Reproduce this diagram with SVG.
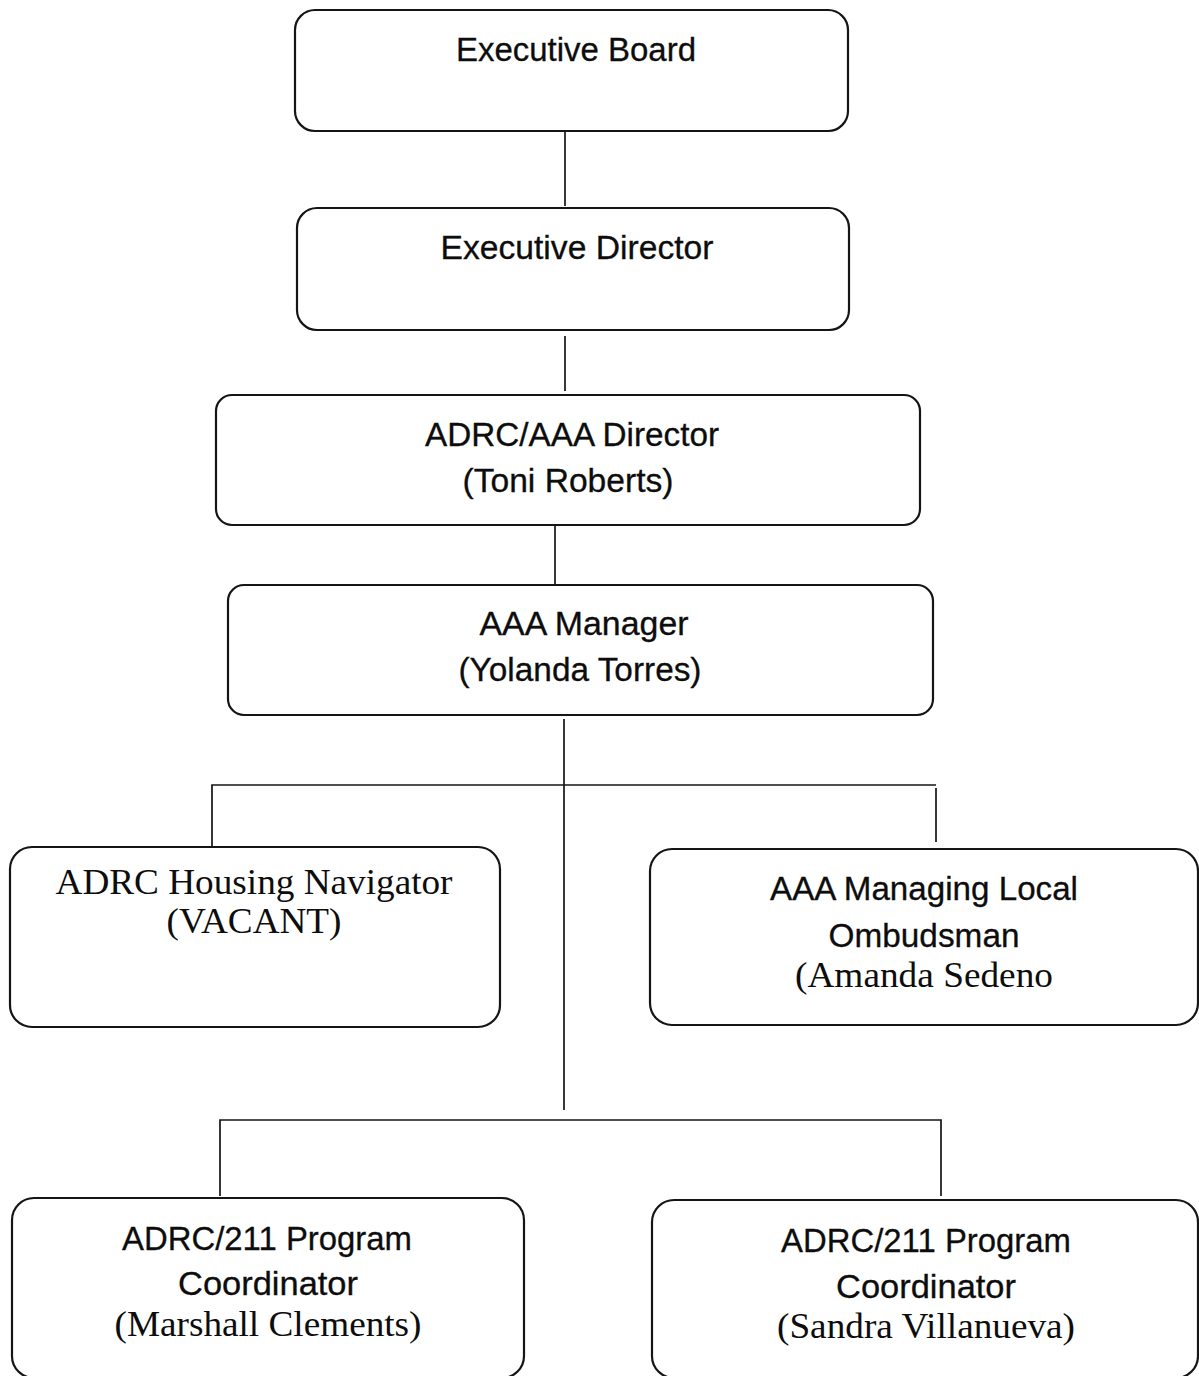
<svg xmlns="http://www.w3.org/2000/svg" width="1199" height="1376" viewBox="0 0 1199 1376">
  <style>
    .box { fill: #ffffff; stroke: #151515; stroke-width: 2.2; }
    .link { fill: none; stroke: #151515; stroke-width: 1.7; }
    .sans { font-family: "Liberation Sans", Arial, sans-serif; font-size: 33px; fill: #0d0d0d; stroke: #0d0d0d; stroke-width: 0.3; text-anchor: middle; }
    .serif { font-family: "Liberation Serif", "Times New Roman", serif; font-size: 36px; fill: #0d0d0d; text-anchor: middle; }
  </style>
  <rect width="1199" height="1376" fill="#ffffff"/>

  <!-- reporting lines -->
  <g id="connectors">
    <line class="link" x1="565" y1="131" x2="565" y2="206"/>
    <line class="link" x1="565" y1="336" x2="565" y2="391"/>
    <line class="link" x1="555" y1="526" x2="555" y2="584"/>
    <line class="link" x1="564" y1="719" x2="564" y2="1110"/>
    <polyline class="link" points="212,846 212,785 936,785"/>
    <line class="link" x1="936" y1="788" x2="936" y2="842"/>
    <polyline class="link" points="220,1196 220,1120 941,1120 941,1196"/>
  </g>

  <g id="executive-board">
    <rect class="box" x="295" y="10" width="553" height="121" rx="20"/>
    <text class="sans" x="576" y="61" textLength="240" lengthAdjust="spacingAndGlyphs">Executive Board</text>
  </g>

  <g id="executive-director">
    <rect class="box" x="297" y="208" width="552" height="122" rx="20"/>
    <text class="sans" x="577" y="259" textLength="273" lengthAdjust="spacingAndGlyphs">Executive Director</text>
  </g>

  <g id="adrc-aaa-director">
    <rect class="box" x="216" y="395" width="704" height="130" rx="16"/>
    <text class="sans" x="572" y="446" textLength="294" lengthAdjust="spacingAndGlyphs">ADRC/AAA Director</text>
    <text class="sans" x="568" y="492" textLength="211" lengthAdjust="spacingAndGlyphs">(Toni Roberts)</text>
  </g>

  <g id="aaa-manager">
    <rect class="box" x="228" y="585" width="705" height="130" rx="16"/>
    <text class="sans" x="584" y="635" textLength="209" lengthAdjust="spacingAndGlyphs">AAA Manager</text>
    <text class="sans" x="580" y="681" textLength="243" lengthAdjust="spacingAndGlyphs">(Yolanda Torres)</text>
  </g>

  <g id="housing-navigator">
    <rect class="box" x="10" y="847" width="490" height="180" rx="22"/>
    <text class="serif" x="254" y="894" textLength="397" lengthAdjust="spacingAndGlyphs">ADRC Housing Navigator</text>
    <text class="serif" x="254" y="933" textLength="175" lengthAdjust="spacingAndGlyphs">(VACANT)</text>
  </g>

  <g id="local-ombudsman">
    <rect class="box" x="650" y="849" width="548" height="176" rx="22"/>
    <text class="sans" x="924" y="900" textLength="308" lengthAdjust="spacingAndGlyphs">AAA Managing Local</text>
    <text class="sans" x="924" y="947" textLength="191" lengthAdjust="spacingAndGlyphs">Ombudsman</text>
    <text class="serif" x="924" y="987" textLength="258" lengthAdjust="spacingAndGlyphs">(Amanda Sedeno</text>
  </g>

  <g id="coordinator-clements">
    <rect class="box" x="12" y="1198" width="512" height="180" rx="22"/>
    <text class="sans" x="267" y="1250" textLength="290" lengthAdjust="spacingAndGlyphs">ADRC/211 Program</text>
    <text class="sans" x="268" y="1295" textLength="180" lengthAdjust="spacingAndGlyphs">Coordinator</text>
    <text class="serif" x="268" y="1336" textLength="307" lengthAdjust="spacingAndGlyphs">(Marshall Clements)</text>
  </g>

  <g id="coordinator-villanueva">
    <rect class="box" x="652" y="1200" width="546" height="178" rx="22"/>
    <text class="sans" x="926" y="1252" textLength="290" lengthAdjust="spacingAndGlyphs">ADRC/211 Program</text>
    <text class="sans" x="926" y="1298" textLength="180" lengthAdjust="spacingAndGlyphs">Coordinator</text>
    <text class="serif" x="926" y="1338" textLength="298" lengthAdjust="spacingAndGlyphs">(Sandra Villanueva)</text>
  </g>
</svg>
